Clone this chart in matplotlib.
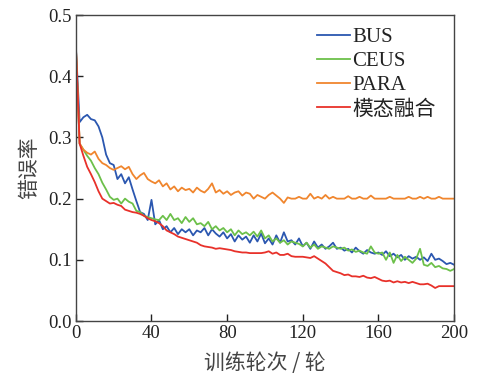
import numpy as np
import matplotlib
matplotlib.use('Agg')
import matplotlib.pyplot as plt

plt.rcParams['font.family'] = ['Liberation Serif', 'Noto Sans CJK SC']

# epochs 0..200, step 2
epochs = np.arange(0, 201, 2)

bus = [0.45, 0.325, 0.333, 0.337, 0.330, 0.328, 0.318, 0.300, 0.272, 0.258,
       0.255, 0.232, 0.240, 0.225, 0.235, 0.215, 0.196, 0.178, 0.175, 0.165,
       0.198, 0.158, 0.165, 0.150, 0.155, 0.145, 0.152, 0.142, 0.150, 0.145,
       0.150, 0.140, 0.148, 0.145, 0.152, 0.140, 0.150, 0.143, 0.138, 0.145,
       0.135, 0.142, 0.130, 0.140, 0.133, 0.138, 0.128, 0.140, 0.130, 0.143,
       0.127, 0.135, 0.125, 0.140, 0.128, 0.145, 0.130, 0.132, 0.125, 0.135,
       0.122, 0.128, 0.118, 0.130, 0.120, 0.125, 0.118, 0.122, 0.128, 0.118,
       0.120, 0.115, 0.118, 0.112, 0.120, 0.114, 0.110, 0.116, 0.112, 0.110,
       0.112, 0.108, 0.114, 0.106, 0.110, 0.104, 0.108, 0.100, 0.106, 0.102,
       0.105, 0.100, 0.104, 0.098, 0.110, 0.100, 0.102, 0.098, 0.093, 0.095,
       0.092]

ceus = [0.45, 0.290, 0.280, 0.270, 0.262, 0.250, 0.240, 0.226, 0.215, 0.203,
        0.198, 0.200, 0.192, 0.200, 0.195, 0.192, 0.180, 0.178, 0.172, 0.170,
        0.168, 0.166, 0.165, 0.172, 0.165, 0.175, 0.165, 0.168, 0.160, 0.170,
        0.162, 0.168, 0.158, 0.160, 0.155, 0.162, 0.150, 0.155, 0.148, 0.152,
        0.145, 0.150, 0.140, 0.148, 0.142, 0.145, 0.140, 0.146, 0.138, 0.148,
        0.135, 0.140, 0.130, 0.135, 0.128, 0.132, 0.125, 0.130, 0.128, 0.126,
        0.122, 0.128, 0.120, 0.125, 0.118, 0.122, 0.120, 0.118, 0.122, 0.120,
        0.118, 0.120, 0.115, 0.117, 0.113, 0.115, 0.112, 0.110, 0.122, 0.112,
        0.110, 0.112, 0.100, 0.112, 0.095, 0.108, 0.098, 0.105, 0.100, 0.095,
        0.102, 0.118, 0.092, 0.090, 0.095, 0.088, 0.090, 0.086, 0.085, 0.082,
        0.085]

para = [0.45, 0.290, 0.280, 0.275, 0.272, 0.277, 0.265, 0.258, 0.255, 0.250,
        0.247, 0.250, 0.253, 0.248, 0.252, 0.240, 0.232, 0.238, 0.242, 0.232,
        0.228, 0.225, 0.230, 0.220, 0.225, 0.215, 0.220, 0.212, 0.218, 0.214,
        0.216, 0.210, 0.218, 0.213, 0.210, 0.216, 0.225, 0.210, 0.214, 0.208,
        0.212, 0.206, 0.210, 0.212, 0.205, 0.210, 0.208, 0.200, 0.206, 0.203,
        0.200, 0.206, 0.210, 0.205, 0.200, 0.193, 0.202, 0.200, 0.200, 0.203,
        0.200, 0.200, 0.208, 0.200, 0.203, 0.200, 0.206, 0.200, 0.203, 0.200,
        0.200, 0.200, 0.204, 0.200, 0.200, 0.203, 0.200, 0.200, 0.205, 0.200,
        0.200, 0.200, 0.200, 0.203, 0.200, 0.200, 0.200, 0.200, 0.203, 0.200,
        0.200, 0.203, 0.200, 0.203, 0.200, 0.200, 0.203, 0.200, 0.200, 0.200,
        0.200]

fusion = [0.45, 0.290, 0.270, 0.252, 0.240, 0.227, 0.212, 0.200, 0.196, 0.192,
          0.193, 0.190, 0.188, 0.182, 0.180, 0.178, 0.177, 0.175, 0.172, 0.168,
          0.165, 0.163, 0.160, 0.155, 0.148, 0.145, 0.142, 0.138, 0.136, 0.134,
          0.132, 0.130, 0.128, 0.124, 0.122, 0.121, 0.120, 0.118, 0.119, 0.118,
          0.117, 0.116, 0.114, 0.113, 0.112, 0.112, 0.111, 0.111, 0.111, 0.111,
          0.112, 0.114, 0.110, 0.112, 0.108, 0.108, 0.110, 0.106, 0.105, 0.105,
          0.105, 0.104, 0.103, 0.106, 0.102, 0.098, 0.094, 0.088, 0.082, 0.080,
          0.078, 0.075, 0.076, 0.073, 0.073, 0.072, 0.074, 0.071, 0.070, 0.072,
          0.069, 0.066, 0.065, 0.066, 0.063, 0.065, 0.063, 0.064, 0.062, 0.064,
          0.062, 0.060, 0.060, 0.061, 0.058, 0.054, 0.057, 0.057, 0.057, 0.057,
          0.057]

series = [('BUS', bus, '#2b57b0'), ('CEUS', ceus, '#6cc04a'),
          ('PARA', para, '#f0862e'), ('模态融合', fusion, '#e8312a')]

fig = plt.figure(figsize=(4.8, 3.77), dpi=100)
ax = fig.add_axes([0.158, 0.1485, 0.788, 0.8115])

for name, vals, col in series:
    ax.plot(epochs, vals, color=col, lw=1.3, label=name)

ax.set_xlim(0, 200)
ax.set_ylim(0, 0.5)
ax.set_xticks([0, 40, 80, 120, 160, 200])
ax.set_yticks([0.0, 0.1, 0.2, 0.3, 0.4, 0.5])
ax.set_yticklabels(['0.0', '0.1', '0.2', '0.3', '0.4', '0.5'])
ax.tick_params(direction='in', length=5, width=1, labelsize=13.5, colors='#222222', pad=3)
for s in ax.spines.values():
    s.set_color('#444444')
    s.set_linewidth(1.0)

ax.set_xlabel('训练轮次 / 轮', family='Noto Sans CJK SC', fontsize=15, color='#444444', labelpad=7)
ax.set_ylabel('错误率', family='Noto Sans CJK SC', fontsize=15, color='#444444', labelpad=6)

leg = ax.legend(loc='upper right', bbox_to_anchor=(0.985, 1.0), frameon=False,
                fontsize=15, handlelength=1.6, handletextpad=0.1, labelspacing=0.22,
                borderaxespad=0.2)
for t in leg.get_texts():
    t.set_color('#222222')

fig.savefig('out.png', dpi=100)
